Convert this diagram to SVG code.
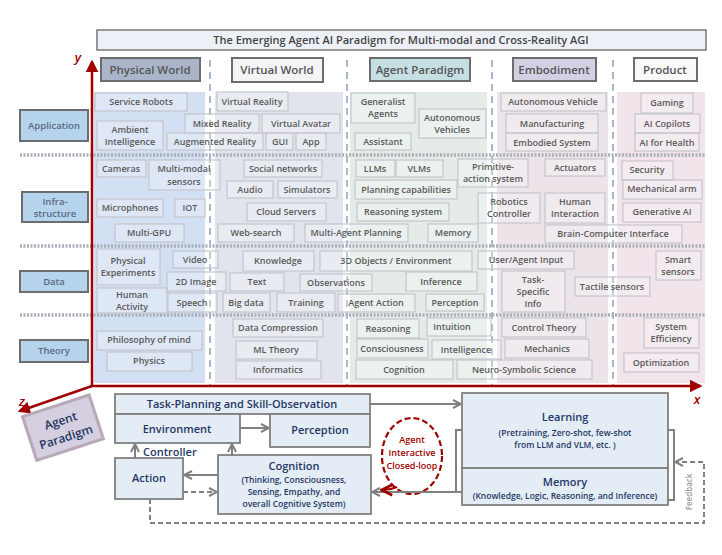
<svg xmlns="http://www.w3.org/2000/svg" width="722" height="555" viewBox="0 0 722 555">
<style>
text{font-family:"Open Sans","Liberation Sans",sans-serif;font-weight:600;text-anchor:middle}
.t{font-size:9px;fill:#5a5a5a}
.b{fill:#ffffff;fill-opacity:0.25;stroke:#c3c6cc;stroke-width:1.2}
.h{font-size:11.5px;fill:#555}
.hb{stroke:#6d6d6d;stroke-width:2}
.r{fill:#b5d3ec;stroke:#6d6d6d;stroke-width:2}
.rt{font-size:9.5px;fill:#5a6a80}
.sep{stroke:#a9b0b8;stroke-width:3.5;stroke-dasharray:2 1.5}
.vd{stroke:#8fa3c0;stroke-width:1.5;stroke-dasharray:7 5}
.p{fill:#e4ecf6;stroke:#808080;stroke-width:1.8}
.pt{fill:#1f3864;font-size:11px}
.ps{fill:#1f3864;font-size:8.5px}
.c{stroke:#808080;stroke-width:2;fill:none}
</style>
<defs>
<marker id="ga" viewBox="0 0 10 10" refX="8" refY="5" markerWidth="5" markerHeight="5" orient="auto"><path d="M1,1 L9,5 L1,9" fill="none" stroke="#808080" stroke-width="2"/></marker>
<marker id="ra" viewBox="0 0 10 10" refX="8" refY="5" markerWidth="5" markerHeight="5" orient="auto"><path d="M0,0 L10,5 L0,10z" fill="#a00000"/></marker>
<marker id="dr" viewBox="0 0 10 10" refX="8" refY="5" markerWidth="6" markerHeight="6" orient="auto"><path d="M1,1 L9,5 L1,9" fill="none" stroke="#a00000" stroke-width="2.2"/></marker>
</defs>
<rect width="722" height="555" fill="#fff"/>
<g id="title"><rect x="97" y="30" width="609" height="20" fill="#eef0f8" stroke="#7a7a7a" stroke-width="1.5"/><text x="401" y="44" font-size="11" fill="#444">The Emerging Agent AI Paradigm for Multi-modal and Cross-Reality AGI</text></g>
<rect x="94" y="92" width="111" height="291" fill="#d3dff3"/>
<rect x="215" y="92" width="128" height="291" fill="#e1e4ec"/>
<rect x="350" y="92" width="137" height="291" fill="#e5ece8"/>
<rect x="497" y="92" width="111" height="291" fill="#ede4ea"/>
<rect x="617" y="92" width="88" height="291" fill="#f1e5eb"/>
<g id="h-physical"><rect class="hb" x="101" y="58" width="99" height="23" fill="#aab5c9"/><text class="h" x="150" y="74">Physical World</text></g>
<g id="h-virtual"><rect class="hb" x="232" y="58" width="91" height="24" fill="#f4f4f6"/><text class="h" x="277" y="74">Virtual World</text></g>
<g id="h-agent"><rect class="hb" x="370" y="58" width="100" height="23" fill="#c6dfe2"/><text class="h" x="420" y="74" font-size="10.5">Agent Paradigm</text></g>
<g id="h-embodiment"><rect class="hb" x="513" y="58" width="83" height="23" fill="#d4d0e4"/><text class="h" x="554" y="74">Embodiment</text></g>
<g id="h-product"><rect class="hb" x="634" y="58" width="63" height="23" fill="#fbf8fa" stroke="#7a5a6a"/><text class="h" x="665" y="74">Product</text></g>
<line class="vd" x1="210" y1="60" x2="210" y2="385"/>
<line class="vd" x1="347" y1="60" x2="347" y2="385"/>
<line class="vd" x1="492" y1="60" x2="492" y2="385"/>
<line class="vd" x1="613" y1="60" x2="613" y2="385"/>
<line class="sep" x1="20" y1="155" x2="706" y2="155"/>
<line class="sep" x1="20" y1="246" x2="706" y2="246"/>
<line class="sep" x1="20" y1="315" x2="706" y2="315"/>
<g id="r-app"><rect class="r" x="20" y="110" width="68" height="31"/><text class="rt" x="54" y="129">Application</text></g>
<g id="r-infra"><rect class="r" x="22" y="192" width="66" height="30"/><text class="rt" x="55" y="205">Infra-</text><text class="rt" x="55" y="217">structure</text></g>
<g id="r-data"><rect class="r" x="20" y="271" width="68" height="21"/><text class="rt" x="54" y="285">Data</text></g>
<g id="r-theory"><rect class="r" x="20" y="340" width="68" height="22"/><text class="rt" x="54" y="354">Theory</text></g>
<g id="items">
<rect class="b" x="95" y="93" width="92" height="18"/><text class="t" x="141" y="105">Service Robots</text>
<rect class="b" x="97" y="121" width="66" height="29"/><text class="t" x="130" y="133">Ambient</text><text class="t" x="130" y="145">Intelligence</text>
<rect class="b" x="217" y="92" width="71" height="19"/><text class="t" x="252" y="105">Virtual Reality</text>
<rect class="b" x="185" y="114" width="74" height="19"/><text class="t" x="222" y="127">Mixed Reality</text>
<rect class="b" x="262" y="114" width="78" height="19"/><text class="t" x="301" y="127">Virtual Avatar</text>
<rect class="b" x="167" y="133" width="96" height="17"/><text class="t" x="215" y="145">Augmented Reality</text>
<rect class="b" x="266" y="133" width="27" height="17"/><text class="t" x="280" y="145">GUI</text>
<rect class="b" x="296" y="133" width="30" height="17"/><text class="t" x="311" y="145">App</text>
<rect class="b" x="351" y="93" width="64" height="30"/><text class="t" x="383" y="105">Generalist</text><text class="t" x="383" y="117">Agents</text>
<rect class="b" x="419" y="109" width="67" height="29"/><text class="t" x="452" y="121">Autonomous</text><text class="t" x="452" y="133">Vehicles</text>
<rect class="b" x="355" y="133" width="56" height="17"/><text class="t" x="383" y="145">Assistant</text>
<rect class="b" x="501" y="93" width="105" height="18"/><text class="t" x="553" y="105">Autonomous Vehicle</text>
<rect class="b" x="506" y="114" width="92" height="19"/><text class="t" x="552" y="127">Manufacturing</text>
<rect class="b" x="506" y="133" width="92" height="18"/><text class="t" x="552" y="146">Embodied System</text>
<rect class="b" x="641" y="93" width="52" height="20"/><text class="t" x="667" y="106">Gaming</text>
<rect class="b" x="635" y="114" width="65" height="19"/><text class="t" x="667" y="127">AI Copilots</text>
<rect class="b" x="635" y="133" width="64" height="18"/><text class="t" x="667" y="146">AI for Health</text>
<rect class="b" x="97" y="160" width="49" height="17"/><text class="t" x="121" y="172">Cameras</text>
<rect class="b" x="149" y="160" width="71" height="30"/><text class="t" x="184" y="172">Multi-modal</text><text class="t" x="184" y="185">sensors</text>
<rect class="b" x="244" y="160" width="78" height="17"/><text class="t" x="283" y="172">Social networks</text>
<rect class="b" x="227" y="181" width="46" height="17"/><text class="t" x="250" y="193">Audio</text>
<rect class="b" x="278" y="181" width="59" height="17"/><text class="t" x="307" y="193">Simulators</text>
<rect class="b" x="97" y="199" width="66" height="18"/><text class="t" x="130" y="211">Microphones</text>
<rect class="b" x="175" y="199" width="30" height="18"/><text class="t" x="190" y="211">IOT</text>
<rect class="b" x="247" y="203" width="79" height="18"/><text class="t" x="286" y="215">Cloud Servers</text>
<rect class="b" x="115" y="224" width="69" height="18"/><text class="t" x="149" y="236">Multi-GPU</text>
<rect class="b" x="218" y="224" width="76" height="18"/><text class="t" x="256" y="236">Web-search</text>
<rect class="b" x="305" y="224" width="103" height="18"/><text class="t" x="356" y="236">Multi-Agent Planning</text>
<rect class="b" x="356" y="160" width="39" height="17"/><text class="t" x="375" y="172">LLMs</text>
<rect class="b" x="396" y="160" width="47" height="17"/><text class="t" x="419" y="172">VLMs</text>
<rect class="b" x="458" y="159" width="70" height="28"/><text class="t" x="493" y="170">Primitive-</text><text class="t" x="493" y="182">action system</text>
<rect class="b" x="355" y="180" width="102" height="19"/><text class="t" x="406" y="193">Planning capabilities</text>
<rect class="b" x="357" y="203" width="92" height="18"/><text class="t" x="403" y="215">Reasoning system</text>
<rect class="b" x="428" y="224" width="50" height="18"/><text class="t" x="453" y="236">Memory</text>
<rect class="b" x="478" y="193" width="62" height="30"/><text class="t" x="509" y="205">Robotics</text><text class="t" x="509" y="217">Controller</text>
<rect class="b" x="545" y="159" width="60" height="17"/><text class="t" x="575" y="171">Actuators</text>
<rect class="b" x="545" y="193" width="60" height="30"/><text class="t" x="575" y="205">Human</text><text class="t" x="575" y="217">Interaction</text>
<rect class="b" x="545" y="225" width="137" height="18"/><text class="t" x="613" y="237">Brain-Computer Interface</text>
<rect class="b" x="622" y="161" width="51" height="19"/><text class="t" x="647" y="173">Security</text>
<rect class="b" x="623" y="180" width="79" height="19"/><text class="t" x="662" y="192">Mechanical arm</text>
<rect class="b" x="623" y="203" width="78" height="19"/><text class="t" x="662" y="215">Generative AI</text>
<rect class="b" x="97" y="249" width="63" height="36" stroke="#8a8a8a"/><text class="t" x="128" y="264">Physical</text><text class="t" x="128" y="276">Experiments</text>
<rect class="b" x="97" y="288" width="70" height="25" stroke="#8a8a8a"/><text class="t" x="132" y="298">Human</text><text class="t" x="132" y="310">Activity</text>
<rect class="b" x="173" y="251" width="45" height="17"/><text class="t" x="195" y="263">Video</text>
<rect class="b" x="167" y="272" width="59" height="19"/><text class="t" x="196" y="285">2D Image</text>
<rect class="b" x="168" y="293" width="49" height="19"/><text class="t" x="192" y="306">Speech</text>
<rect class="b" x="243" y="251" width="71" height="20"/><text class="t" x="278" y="264">Knowledge</text>
<rect class="b" x="230" y="273" width="54" height="18"/><text class="t" x="257" y="285">Text</text>
<rect class="b" x="223" y="293" width="47" height="19"/><text class="t" x="246" y="306">Big data</text>
<rect class="b" x="277" y="293" width="58" height="19"/><text class="t" x="306" y="306">Training</text>
<rect class="b" x="300" y="274" width="72" height="17" stroke="#777"/><text class="t" x="336" y="286">Observations</text>
<rect class="b" x="320" y="251" width="152" height="20"/><text class="t" x="396" y="264">3D Objects / Environment</text>
<rect class="b" x="338" y="294" width="77" height="18"/><text class="t" x="376" y="306">Agent Action</text>
<rect class="b" x="406" y="272" width="71" height="19"/><text class="t" x="441" y="285">Inference</text>
<rect class="b" x="426" y="294" width="58" height="17"/><text class="t" x="455" y="306">Perception</text>
<rect class="b" x="478" y="251" width="96" height="18"/><text class="t" x="526" y="263">User/Agent Input</text>
<rect class="b" x="502" y="271" width="63" height="41"/><text class="t" x="533" y="283">Task-</text><text class="t" x="533" y="295">Specific</text><text class="t" x="533" y="307">Info</text>
<rect class="b" x="575" y="277" width="75" height="19"/><text class="t" x="612" y="290">Tactile sensors</text>
<rect class="b" x="656" y="251" width="45" height="29"/><text class="t" x="678" y="263">Smart</text><text class="t" x="678" y="275">sensors</text>
<rect class="b" x="233" y="319" width="90" height="18"/><text class="t" x="278" y="331">Data Compression</text>
<rect class="b" x="97" y="331" width="105" height="19"/><text class="t" x="149" y="343">Philosophy of mind</text>
<rect class="b" x="236" y="341" width="81" height="18"/><text class="t" x="276" y="353">ML Theory</text>
<rect class="b" x="107" y="352" width="85" height="19"/><text class="t" x="149" y="364">Physics</text>
<rect class="b" x="236" y="361" width="85" height="18"/><text class="t" x="278" y="373">Informatics</text>
<rect class="b" x="357" y="319" width="62" height="19"/><text class="t" x="388" y="332">Reasoning</text>
<rect class="b" x="427" y="318" width="64" height="18"/><text class="t" x="452" y="330">Intuition</text>
<rect class="b" x="357" y="339" width="71" height="19"/><text class="t" x="392" y="352">Consciousness</text>
<rect class="b" x="432" y="340" width="69" height="19"/><text class="t" x="466" y="353">Intelligence</text>
<rect class="b" x="356" y="360" width="97" height="19"/><text class="t" x="404" y="373">Cognition</text>
<rect class="b" x="457" y="360" width="135" height="19"/><text class="t" x="524" y="373">Neuro-Symbolic Science</text>
<rect class="b" x="502" y="318" width="84" height="19"/><text class="t" x="544" y="331">Control Theory</text>
<rect class="b" x="505" y="339" width="84" height="19"/><text class="t" x="547" y="352">Mechanics</text>
<rect class="b" x="644" y="318" width="55" height="30"/><text class="t" x="671" y="330">System</text><text class="t" x="671" y="342">Efficiency</text>
<rect class="b" x="624" y="353" width="75" height="19"/><text class="t" x="661" y="366">Optimization</text>
</g>
<g id="axes" stroke="#a00000" stroke-width="2.5" fill="none">
<line x1="92" y1="386" x2="92" y2="62" marker-end="url(#ra)"/>
<line x1="91" y1="386" x2="700" y2="386" marker-end="url(#ra)"/>
<line x1="92" y1="386" x2="20" y2="411" marker-end="url(#ra)"/>
</g>
<text x="78" y="62" font-size="13" fill="#a00000" font-style="italic" font-family="Liberation Serif,serif" font-weight="bold">y</text>
<text x="697" y="404" font-size="13" fill="#a00000" font-style="italic" font-family="Liberation Serif,serif" font-weight="bold">x</text>
<text x="22" y="406" font-size="13" fill="#a00000" font-style="italic" font-family="Liberation Serif,serif" font-weight="bold">z</text>
<g id="badge" transform="rotate(-18 62 428)"><rect x="28" y="405" width="70" height="46" fill="#d5cfe0" stroke="#b8a8b8" stroke-width="3"/><text x="63" y="425" font-size="12" fill="#1f3864">Agent</text><text x="63" y="442" font-size="12" fill="#1f3864">Paradigm</text></g>
<g id="n-task"><rect class="p" x="115" y="394" width="255" height="20"/><text class="pt" x="242" y="408">Task-Planning and Skill-Observation</text></g>
<g id="n-env"><rect class="p" x="115" y="414" width="125" height="29"/><text class="pt" x="177" y="433">Environment</text></g>
<g id="n-perc"><rect class="p" x="270" y="414" width="100" height="33"/><text class="pt" x="320" y="434">Perception</text></g>
<g id="n-action"><rect class="p" x="115" y="458" width="68" height="41"/><text class="pt" x="149" y="482">Action</text></g>
<g id="n-cog"><rect class="p" x="218" y="455" width="153" height="59"/><text class="pt" x="294" y="470">Cognition</text><text class="ps" x="294" y="483">(Thinking, Consciousness,</text><text class="ps" x="294" y="495">Sensing, Empathy, and</text><text class="ps" x="294" y="507">overall Cognitive System)</text></g>
<g id="n-learn"><rect class="p" x="462" y="393" width="206" height="75"/><text class="pt" x="565" y="421" font-size="12">Learning</text><text class="ps" x="565" y="436">(Pretraining, Zero-shot, few-shot</text><text class="ps" x="565" y="448">from LLM and VLM, etc. )</text></g>
<g id="n-mem"><rect class="p" x="462" y="468" width="206" height="37"/><text class="pt" x="565" y="486" font-size="12">Memory</text><text class="ps" x="565" y="499">(Knowledge, Logic, Reasoning, and Inference)</text></g>
<g id="n-loop"><ellipse cx="412" cy="456" rx="30" ry="38" fill="#fff" stroke="#a00000" stroke-width="2.2" stroke-dasharray="6 3"/><text x="412" y="443" font-size="9" fill="#a00000">Agent</text><text x="412" y="456" font-size="9" fill="#a00000">Interactive</text><text x="412" y="469" font-size="9" fill="#a00000">Closed-loop</text></g>
<g id="connectors">
<line class="c" x1="370" y1="404" x2="460" y2="404" marker-end="url(#ga)"/>
<line class="c" x1="240" y1="428" x2="268" y2="428" marker-end="url(#ga)"/>
<line class="c" x1="135" y1="458" x2="135" y2="445" marker-end="url(#ga)"/>
<line class="c" x1="232" y1="455" x2="232" y2="445" marker-end="url(#ga)"/>
<line class="c" x1="218" y1="475" x2="185" y2="475" marker-end="url(#ga)"/>
<line class="c" x1="183" y1="492" x2="216" y2="492" stroke-dasharray="5 3" marker-end="url(#ga)"/>
<path class="c" d="M462,430 H456 V492 H462"/>
<line class="c" x1="456" y1="492" x2="373" y2="492" marker-end="url(#ga)"/>
<path class="c" d="M668,430 H674 V500 H668"/>
<path class="c" d="M150,499 V523 H704 V462 H676" stroke-dasharray="5 3" marker-end="url(#ga)"/>
<path d="M397,487 Q390,490 383,490" fill="none" stroke="#a00000" stroke-width="2.2" marker-end="url(#dr)"/>
</g>
<text x="143" y="456" font-size="11" fill="#1f3864" style="text-anchor:start">Controller</text>
<text transform="translate(692 492) rotate(-90)" font-size="8" fill="#999" font-weight="normal">Feedback</text>
</svg>
